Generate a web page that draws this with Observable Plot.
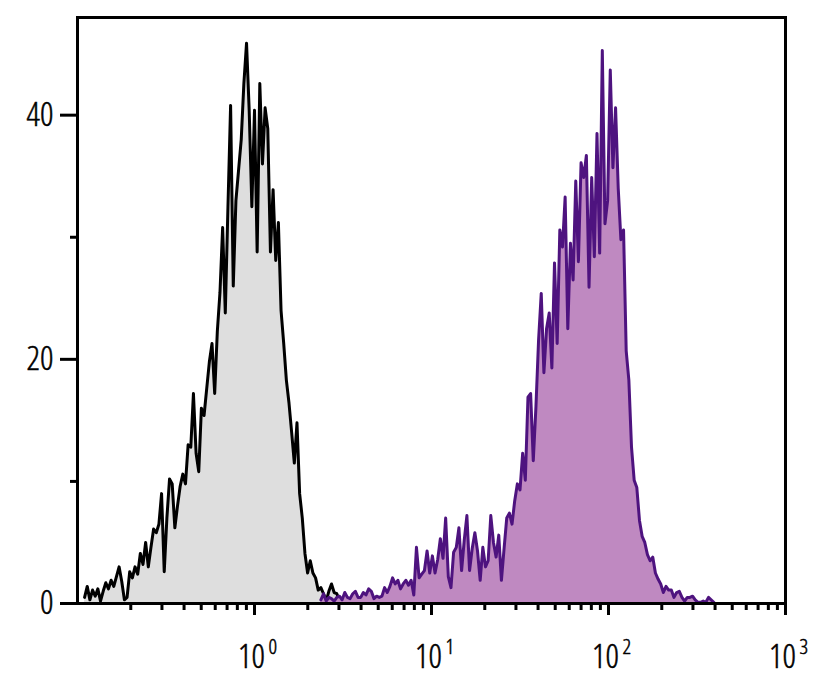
<!DOCTYPE html>
<html>
<head>
<meta charset="utf-8">
<script src="https://cdn.jsdelivr.net/npm/d3@7"></script>
<script src="https://cdn.jsdelivr.net/npm/@observablehq/plot@0.6"></script>
<style>
  html, body { margin: 0; padding: 0; background: #fff; }
  #chart svg { display: block; }
  #chart svg text { font-stretch: 75%; font-weight: 300; stroke: #000; stroke-width: 0.5px; }
</style>
</head>
<body>
<div id="chart"></div>
<script>
// Histogram bins are evenly spaced in log10 of fluorescence intensity
const binStepLog = 0.015;

// Unstained / control histogram (grey)
const grayStartLog = -0.96;
const grayCounts = [
  0.5, 1.4, 0.3, 1.1, 0.6, 1.2, 0.2, 1.0, 1.7, 1.2,
  1.9, 1.4, 2.2, 3.0, 1.8, 0.3, 0.5, 2.6, 2.1, 3.0,
  2.4, 4.1, 3.2, 5.0, 3.0, 4.6, 6.1, 5.8, 6.5, 9.0,
  2.6, 7.0, 10.2, 9.8, 6.2, 8.0, 9.6, 10.6, 9.8, 13.0,
  12.8, 17.2, 12.3, 10.8, 16.0, 15.4, 17.6, 19.8, 21.3, 17.2,
  22.3, 25.5, 30.8, 23.8, 32.5, 40.8, 26.0, 33.0, 35.5, 38.0,
  42.6, 45.9, 40.4, 32.5, 40.4, 28.8, 42.6, 36.0, 40.6, 38.9,
  28.8, 33.9, 28.1, 31.2, 24.0, 21.3, 18.3, 16.4, 14.0, 11.5,
  14.8, 9.0, 7.0, 4.1, 2.5, 3.5, 2.5, 2.1, 1.1, 1.3,
  0.8, 0.2, 1.0, 1.6, 0.9, 0.8, 0.3, 0.2, 0.4
];

// Stained histogram (purple)
const purpleStartLog = 0.375;
const purpleCounts = [
  0.3, 0.8, 0.2, 0.5, 0.4, 0.2, 0.5, 0.6, 0.3, 0.9,
  0.5, 0.4, 0.8, 1.0, 0.5, 0.5, 0.9, 0.7, 1.2, 1.0,
  0.4, 0.6, 0.5, 0.6, 1.3, 0.9, 1.4, 2.1, 1.6, 1.9,
  1.2, 1.6, 1.9, 1.5, 1.9, 0.7, 4.6, 2.1, 2.4, 2.7,
  4.3, 2.5, 3.9, 2.5, 3.6, 5.3, 3.7, 7.0, 2.2, 1.3,
  4.2, 4.6, 6.2, 2.7, 5.2, 7.2, 2.7, 4.5, 5.8, 4.3,
  1.9, 4.6, 3.0, 3.5, 7.2, 5.0, 3.8, 5.6, 1.9, 4.5,
  7.0, 7.4, 6.5, 8.4, 9.8, 9.3, 12.3, 10.1, 16.9, 17.2,
  11.7, 16.1, 21.6, 25.4, 18.9, 22.5, 23.8, 19.3, 27.9, 21.3,
  30.6, 29.2, 33.3, 22.5, 29.5, 26.5, 34.6, 28.0, 36.1, 34.9,
  36.7, 25.9, 34.9, 28.4, 38.5, 28.7, 45.3, 31.1, 33.0, 43.7,
  35.7, 40.6, 34.0, 29.8, 30.6, 20.7, 18.3, 12.8, 10.1, 9.5,
  6.8, 5.5, 5.0, 4.0, 3.5, 3.8, 2.5, 2.0, 1.6, 0.9,
  1.4, 1.1, 1.1, 0.5, 0.9, 1.0, 0.5, 0.2, 0.5, 0.5,
  0.6, 0.3, 0.1, 0.1, 0.2, 0.1, 0.5, 0.3, 0.1
];

// Axis ticks
const xMajorTicks = [1, 10, 100, 1000];
const xExponents = ["0", "1", "2", "3"];
const xMinorTicks = [0.2,0.3,0.4,0.5,0.6,0.7,0.8,0.9, 2,3,4,5,6,7,8,9, 20,30,40,50,60,70,80,90, 200,300,400,500,600,700,800,900];
const yMajorTicks = [0, 20, 40];
const yMinorTicks = [10, 30];

const toRows = (start, counts) => counts.map((c, i) => ({x: Math.pow(10, start + i * binStepLog), y: c}));
const gray = toRows(grayStartLog, grayCounts);
const purple = toRows(purpleStartLog, purpleCounts);

const labelFont = "'Open Sans', 'Liberation Sans', sans-serif";
const majors = xMajorTicks.map((v, i) => ({v, e: xExponents[i]}));

const chart = Plot.plot({
  width: 819,
  height: 677,
  marginLeft: 77,
  marginRight: 34,
  marginTop: 17,
  marginBottom: 74,
  style: {fontFamily: labelFont, color: "#000", background: "#fff"},
  x: {type: "log", domain: [0.1, 1000]},
  y: {domain: [0, 48]},
  marks: [
    Plot.areaY(gray, {x: "x", y: "y", fill: "#dedede"}),
    Plot.lineY(gray, {x: "x", y: "y", stroke: "#000", strokeWidth: 3}),
    Plot.areaY(purple, {x: "x", y: "y", fill: "#bf89c1"}),
    Plot.lineY(purple, {x: "x", y: "y", stroke: "#4e137f", strokeWidth: 3}),
    Plot.frame({stroke: "#000", strokeWidth: 3}),
    Plot.axisY({ticks: yMajorTicks, tickSize: 17, tickPadding: 7, strokeWidth: 3, fontSize: 33, label: null}),
    Plot.axisY({ticks: yMinorTicks, tickSize: 7, strokeWidth: 3, tickFormat: () => "", label: null}),
    Plot.axisX({ticks: xMajorTicks, tickSize: 12, strokeWidth: 3, tickFormat: () => "", label: null}),
    Plot.axisX({ticks: xMinorTicks, tickSize: 7, strokeWidth: 3, tickFormat: () => "", label: null}),
    Plot.text(majors, {x: "v", y: () => 0, text: () => "10", fontSize: 33, lineAnchor: "bottom", textAnchor: "middle", dy: 64, dx: -3}),
    Plot.text(majors, {x: "v", y: () => 0, text: "e", fontSize: 21, lineAnchor: "bottom", textAnchor: "start", dy: 50, dx: 14})
  ]
});
document.getElementById("chart").appendChild(chart);
</script>
</body>
</html>
